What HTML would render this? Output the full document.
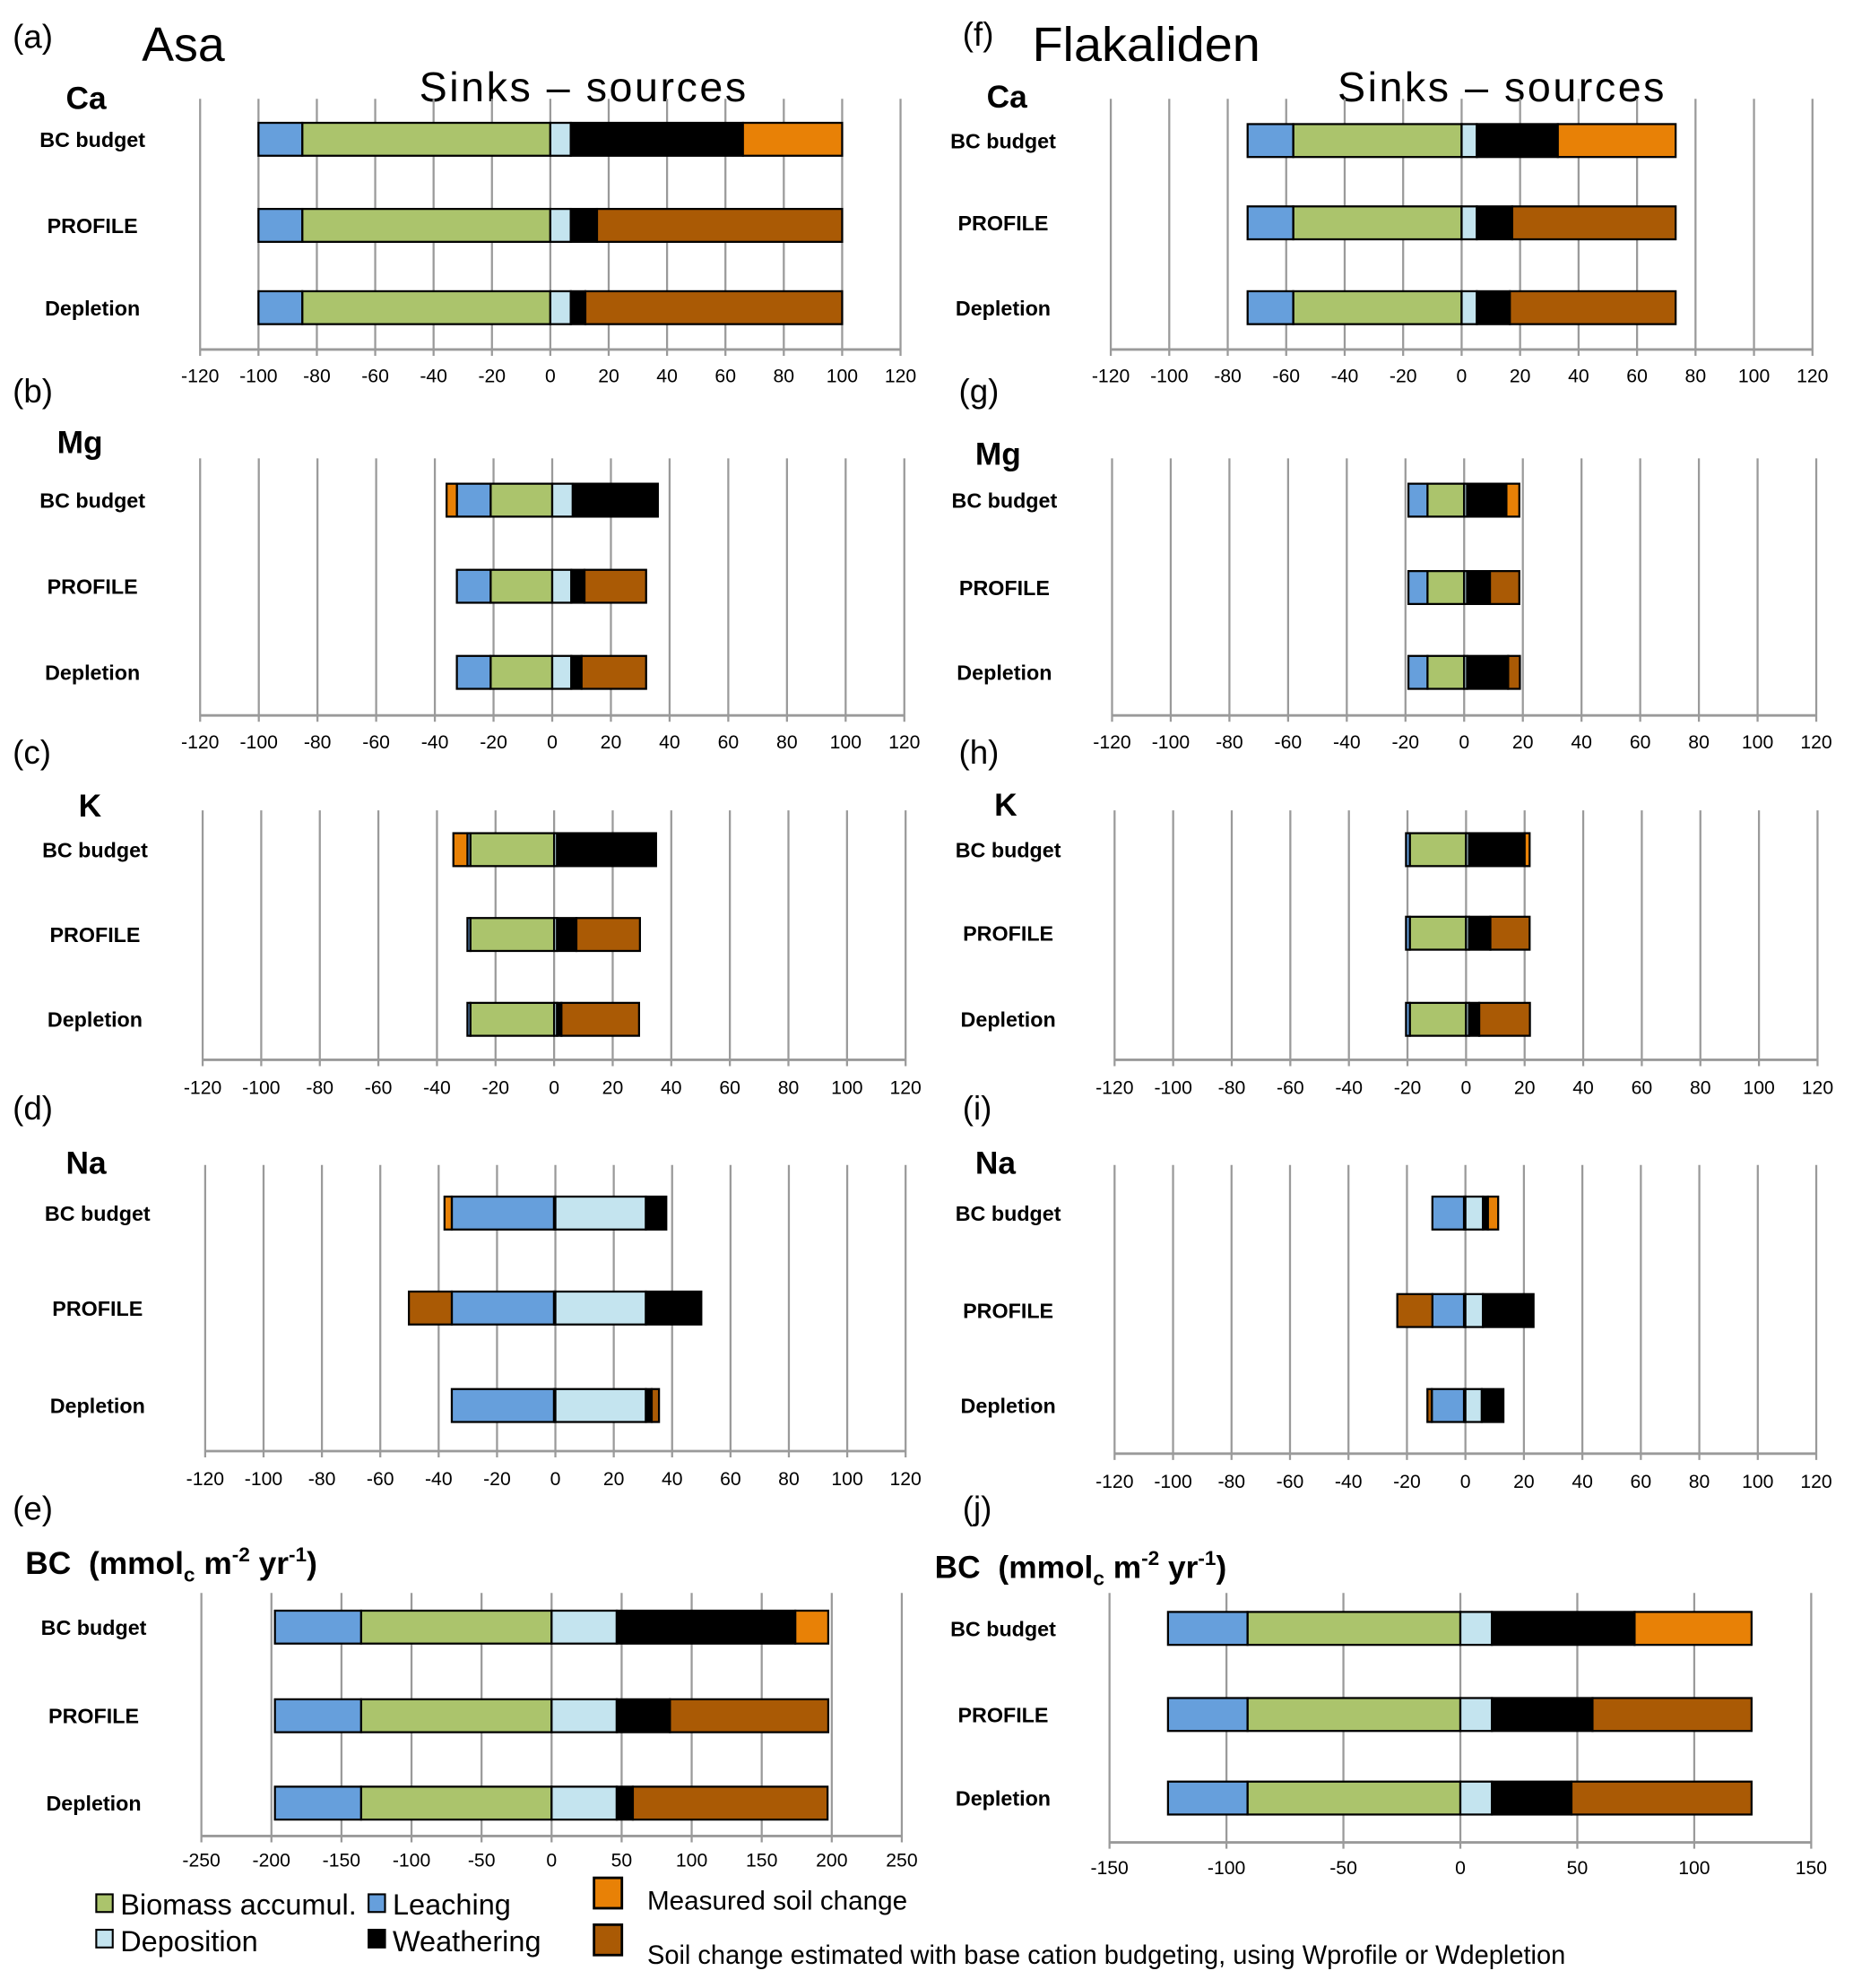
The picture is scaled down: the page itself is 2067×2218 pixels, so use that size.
<!DOCTYPE html>
<html><head><meta charset="utf-8">
<style>
html,body{margin:0;padding:0;background:#fff;}
svg{display:block;}
text{font-family:"Liberation Sans Narrow","Liberation Sans",sans-serif;fill:#000;}
.b{font-weight:bold;}
</style></head>
<body>
<svg id="fig" width="2067" height="2218" viewBox="0 0 1463 1570" preserveAspectRatio="none" xmlns="http://www.w3.org/2000/svg">
<g id="titles">
<text x="10" y="38" font-size="26">(a)</text>
<text x="112" y="48" font-size="38">Asa</text>
<text x="331" y="80" font-size="33" textLength="258" lengthAdjust="spacing">Sinks – sources</text>
<text x="760" y="36" font-size="26">(f)</text>
<text x="815" y="48" font-size="38" textLength="180" lengthAdjust="spacingAndGlyphs">Flakaliden</text>
<text x="1056" y="80" font-size="33" textLength="258" lengthAdjust="spacing">Sinks – sources</text>
<text x="10" y="318" font-size="26">(b)</text>
<text x="10" y="603" font-size="26">(c)</text>
<text x="10" y="884" font-size="26">(d)</text>
<text x="10" y="1200" font-size="26">(e)</text>
<text x="757" y="318" font-size="26">(g)</text>
<text x="757" y="603" font-size="26">(h)</text>
<text x="760" y="884" font-size="26">(i)</text>
<text x="760" y="1200" font-size="26">(j)</text>
<text x="52" y="86" font-size="25" class="b">Ca</text>
<text x="45" y="358" font-size="25" class="b">Mg</text>
<text x="62" y="645" font-size="25" class="b">K</text>
<text x="52" y="927" font-size="25" class="b">Na</text>
<text x="20" y="1243" font-size="25" class="b">BC<tspan dx="14">(mmol</tspan><tspan font-size="16" dy="6">c</tspan><tspan dy="-6"> m</tspan><tspan font-size="16" dy="-10">-2</tspan><tspan dy="10"> yr</tspan><tspan font-size="16" dy="-10">-1</tspan><tspan dy="10">)</tspan></text>
<text x="779" y="85" font-size="25" class="b">Ca</text>
<text x="770" y="367" font-size="25" class="b">Mg</text>
<text x="785" y="644" font-size="25" class="b">K</text>
<text x="770" y="927" font-size="25" class="b">Na</text>
<text x="738" y="1246" font-size="25" class="b">BC<tspan dx="14">(mmol</tspan><tspan font-size="16" dy="6">c</tspan><tspan dy="-6"> m</tspan><tspan font-size="16" dy="-10">-2</tspan><tspan dy="10"> yr</tspan><tspan font-size="16" dy="-10">-1</tspan><tspan dy="10">)</tspan></text>
</g>
<g id="legend">
<g><rect x="76" y="1496" width="13" height="14" fill="#abc46c" stroke="#000" stroke-width="1.5"/><text x="95" y="1512" font-size="23">Biomass accumul.</text></g>
<g><rect x="291" y="1496" width="13" height="14" fill="#669fdc" stroke="#000" stroke-width="1.5"/><text x="310" y="1512" font-size="23">Leaching</text></g>
<g><rect x="76" y="1524" width="13" height="14" fill="#c4e4ef" stroke="#000" stroke-width="1.5"/><text x="95" y="1541" font-size="23">Deposition</text></g>
<g><rect x="291" y="1524" width="13" height="14" fill="#000" stroke="#000" stroke-width="1.5"/><text x="310" y="1541" font-size="23">Weathering</text></g>
<g><rect x="469" y="1483" width="22" height="24" fill="#e88106" stroke="#000" stroke-width="2"/><text x="511" y="1508" font-size="21">Measured soil change</text></g>
<g><rect x="469" y="1520" width="22" height="24" fill="#aa5a05" stroke="#000" stroke-width="2"/><text x="511" y="1551" font-size="21" textLength="725" lengthAdjust="spacingAndGlyphs">Soil change estimated with base cation budgeting, using Wprofile or Wdepletion</text></g>
</g>
<g id="panels"></g>
</svg>
<script>
// categories
const rowLabels = ["BC budget", "PROFILE", "Depletion"];
const panelIds = ["a","b","c","d","e","f","g","h","i","j"];
const ticksSmall = [-120,-100,-80,-60,-40,-20,0,20,40,60,80,100,120];
const ticksBCAsa = [-250,-200,-150,-100,-50,0,50,100,150,200,250];
const ticksBCFlak = [-150,-100,-50,0,50,100,150];
// series values per panel: rows = BC budget, PROFILE, Depletion
const leaching = [[15,15,15],[11.5,11.5,11.5],[1,1,1],[35,35,35],[61.5,61.5,61.5],[15.6,15.6,15.6],[6.5,6.5,6.5],[1.3,1.3,1.3],[10.8,10.8,11],[34,34,34]];
const biomass = [[85,85,85],[21,21,21],[28.6,28.6,28.6],[0.5,0.5,0.5],[136,136,136],[57.6,57.6,57.6],[12.5,12.5,12.5],[19.2,19.2,19.2],[0.5,0.5,0.5],[91,91,91]];
const deposition = [[7,7,7],[7,6.5,6.5],[1,1,1],[31,31,31],[46.5,46.5,46.5],[5.2,5.2,5.2],[1,1,1],[1,1,1],[6,6,5.6],[13.5,13.5,13.5]];
const weathering = [[59,9,5],[29,4.5,3.5],[33.8,6.6,1.5],[7,19,2],[127.5,38,11.5],[27.7,12.1,11.3],[13.4,7.8,14],[19,7.3,3.5],[1.7,17.3,7.4],[61,43,34]];
const soilChange = [[34,84,88],[-3.5,21,22],[-4.8,21.7,26.5],[-2.5,-14.7,2.5],[23.5,113,139],[40.3,55.9,56.7],[4.4,10,4],[1.7,13.4,17.3],[3.5,-12,-1.5],[50,68,77]];

// layout (viewBox units)
const layout = [
 {x0:158,x1:711,top:78,axis:276,tick:302,rows:[110,178,243],lab:73},
 {x0:158,x1:714,top:362,axis:565,tick:591,rows:[395,463,531],lab:73},
 {x0:160,x1:715,top:640,axis:837,tick:864,rows:[671,738,805],lab:75},
 {x0:162,x1:715,top:920,axis:1146,tick:1173,rows:[958,1033,1110],lab:77},
 {x0:159,x1:712,top:1258,axis:1450,tick:1474,rows:[1285,1355,1424],lab:74},
 {x0:877,x1:1431,top:78,axis:276,tick:302,rows:[111,176,243],lab:792},
 {x0:878,x1:1434,top:362,axis:565,tick:591,rows:[395,464,531],lab:793},
 {x0:880,x1:1435,top:640,axis:837,tick:864,rows:[671,737,805],lab:796},
 {x0:880,x1:1434,top:920,axis:1148,tick:1175,rows:[958,1035,1110],lab:796},
 {x0:876,x1:1430,top:1258,axis:1455,tick:1480,rows:[1286,1354,1420],lab:792}
];
const NS = "http://www.w3.org/2000/svg";
const root = document.getElementById("panels");
function mk(tag, attrs, parent){
  const e = document.createElementNS(NS, tag);
  for (const k in attrs) e.setAttribute(k, attrs[k]);
  parent.appendChild(e);
  return e;
}
const barH = 26;
panelIds.forEach((pid, p) => {
  const L = layout[p];
  const ticks = p===4 ? ticksBCAsa : (p===9 ? ticksBCFlak : ticksSmall);
  const vmin = ticks[0], vmax = ticks[ticks.length-1];
  const sx = v => L.x0 + (v - vmin) / (vmax - vmin) * (L.x1 - L.x0);
  const g = mk("g", {}, root);
  
  
  ticks.forEach(t => {
    const gl = mk("line", {x1:sx(t), x2:sx(t), y1:L.top, y2:L.axis+5, stroke:"#9a9a9a", "stroke-width":1.6}, g);
    
    
    const tl = mk("text", {x:sx(t), y:L.tick, "font-size":15, "text-anchor":"middle"}, g);
    tl.textContent = String(t);
    
    
  });
  const ax = mk("line", {x1:L.x0, x2:L.x1, y1:L.axis, y2:L.axis, stroke:"#9a9a9a", "stroke-width":2}, g);
  
  
  rowLabels.forEach((lbl, r) => {
    const cy = L.rows[r];
    const t = mk("text", {x:L.lab, y:cy+6, "font-size":16.5, "text-anchor":"middle", "font-weight":"bold"}, g);
    t.textContent = lbl;
    
    
    const soilCol = r===0 ? "#e88106" : "#aa5a05";
    const s = soilChange[p][r];
    const neg = [[biomass[p][r],"#abc46c","biomass"],[leaching[p][r],"#669fdc","leaching"]];
    const pos = [[deposition[p][r],"#c4e4ef","deposition"],[weathering[p][r],"#000000","weathering"]];
    if (s < 0) neg.push([-s, soilCol, "soil-change"]); else pos.push([s, soilCol, "soil-change"]);
    let acc = 0;
    neg.forEach(seg => {
      const a = sx(-acc), b = sx(-(acc+seg[0]));
      const rc = mk("rect", {x:b, y:cy-barH/2, width:Math.max(0,a-b), height:barH, fill:seg[1], stroke:"#000", "stroke-width":1.6}, g);
      
      
      acc += seg[0];
    });
    acc = 0;
    pos.forEach(seg => {
      const a = sx(acc), b = sx(acc+seg[0]);
      const rc = mk("rect", {x:a, y:cy-barH/2, width:Math.max(0,b-a), height:barH, fill:seg[1], stroke:"#000", "stroke-width":1.6}, g);
      
      
      acc += seg[0];
    });
  });
});
</script>
</body></html>
